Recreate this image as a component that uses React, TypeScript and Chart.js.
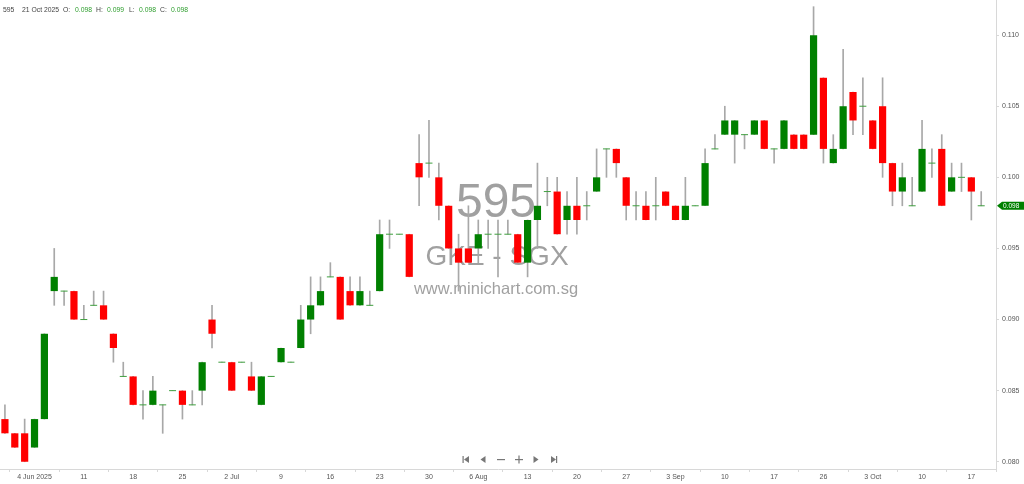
import React, { useEffect, useRef } from 'react';
import { Chart, registerables } from 'chart.js';

Chart.register(...registerables);

// daily OHLC, 595 GKE - SGX, from late May to 21 Oct 2025
const opens = [
  0.083, 0.082, 0.082, 0.081, 0.083, 0.092, 0.092, 0.092, 0.090, 0.091,
  0.091, 0.089, 0.086, 0.086, 0.084, 0.084, 0.084, 0.085, 0.085, 0.084,
  0.085, 0.090, 0.087, 0.087, 0.087, 0.086, 0.084, 0.086, 0.087, 0.087,
  0.088, 0.090, 0.091, 0.093, 0.093, 0.092, 0.091, 0.091, 0.092, 0.096,
  0.096, 0.096, 0.101, 0.101, 0.100, 0.098, 0.095, 0.095, 0.095, 0.096,
  0.096, 0.096, 0.096, 0.094, 0.097, 0.099, 0.099, 0.097, 0.098, 0.098,
  0.099, 0.102, 0.102, 0.100, 0.098, 0.098, 0.098, 0.099, 0.098, 0.097,
  0.098, 0.098, 0.102, 0.103, 0.103, 0.103, 0.103, 0.104, 0.102, 0.102,
  0.103, 0.103, 0.103, 0.107, 0.101, 0.102, 0.106, 0.105, 0.104, 0.105,
  0.101, 0.099, 0.098, 0.099, 0.101, 0.102, 0.099, 0.100, 0.100, 0.098,
];
const highs = [
  0.084, 0.082, 0.083, 0.083, 0.089, 0.095, 0.092, 0.092, 0.091, 0.092,
  0.092, 0.089, 0.087, 0.086, 0.085, 0.086, 0.084, 0.085, 0.085, 0.085,
  0.087, 0.091, 0.087, 0.087, 0.087, 0.087, 0.086, 0.086, 0.088, 0.087,
  0.091, 0.093, 0.093, 0.094, 0.093, 0.093, 0.093, 0.092, 0.097, 0.097,
  0.096, 0.096, 0.103, 0.104, 0.101, 0.098, 0.096, 0.098, 0.097, 0.097,
  0.097, 0.097, 0.096, 0.097, 0.101, 0.100, 0.100, 0.099, 0.100, 0.099,
  0.102, 0.102, 0.102, 0.100, 0.099, 0.099, 0.100, 0.099, 0.098, 0.100,
  0.098, 0.102, 0.103, 0.105, 0.104, 0.103, 0.104, 0.104, 0.102, 0.104,
  0.103, 0.103, 0.112, 0.107, 0.103, 0.109, 0.106, 0.107, 0.104, 0.107,
  0.101, 0.101, 0.100, 0.104, 0.102, 0.103, 0.101, 0.101, 0.100, 0.099,
];
const lows = [
  0.082, 0.081, 0.080, 0.081, 0.083, 0.091, 0.091, 0.090, 0.090, 0.091,
  0.090, 0.087, 0.086, 0.084, 0.083, 0.084, 0.082, 0.085, 0.083, 0.084,
  0.084, 0.088, 0.087, 0.085, 0.087, 0.085, 0.084, 0.086, 0.087, 0.087,
  0.088, 0.089, 0.091, 0.093, 0.090, 0.091, 0.091, 0.091, 0.092, 0.095,
  0.096, 0.093, 0.098, 0.100, 0.097, 0.095, 0.092, 0.094, 0.094, 0.095,
  0.093, 0.096, 0.094, 0.093, 0.095, 0.098, 0.096, 0.096, 0.096, 0.097,
  0.099, 0.100, 0.100, 0.097, 0.097, 0.097, 0.097, 0.098, 0.097, 0.097,
  0.098, 0.098, 0.102, 0.103, 0.101, 0.102, 0.103, 0.102, 0.101, 0.102,
  0.102, 0.102, 0.103, 0.101, 0.101, 0.102, 0.103, 0.103, 0.102, 0.100,
  0.098, 0.098, 0.098, 0.099, 0.100, 0.098, 0.099, 0.099, 0.097, 0.098,
];
const closes = [
  0.082, 0.081, 0.080, 0.083, 0.089, 0.093, 0.092, 0.090, 0.090, 0.091,
  0.090, 0.088, 0.086, 0.084, 0.084, 0.085, 0.084, 0.085, 0.084, 0.084,
  0.087, 0.089, 0.087, 0.085, 0.087, 0.085, 0.086, 0.086, 0.088, 0.087,
  0.090, 0.091, 0.092, 0.093, 0.090, 0.091, 0.092, 0.091, 0.096, 0.096,
  0.096, 0.093, 0.100, 0.101, 0.098, 0.095, 0.094, 0.094, 0.096, 0.096,
  0.096, 0.096, 0.094, 0.097, 0.098, 0.099, 0.096, 0.098, 0.097, 0.098,
  0.100, 0.102, 0.101, 0.098, 0.098, 0.097, 0.098, 0.098, 0.097, 0.098,
  0.098, 0.101, 0.102, 0.104, 0.104, 0.103, 0.104, 0.102, 0.102, 0.104,
  0.102, 0.102, 0.110, 0.102, 0.102, 0.105, 0.104, 0.105, 0.102, 0.101,
  0.099, 0.100, 0.098, 0.102, 0.101, 0.098, 0.100, 0.100, 0.099, 0.098,
];

// bar index -> date label on the time axis
const dateTickIndex = [3, 8, 13, 18, 23, 28, 33, 38, 43, 48, 53, 58, 63, 68, 73, 78, 83, 88, 93, 98];
const dateTickLabels = [
  '4 Jun 2025', '11', '18', '25', '2 Jul', '9', '16', '23', '30', '6 Aug',
  '13', '20', '27', '3 Sep', '10', '17', '26', '3 Oct', '10', '17',
];
const priceTicks = [0.08, 0.085, 0.09, 0.095, 0.1, 0.105, 0.11];

const UP = '#008000';
const DOWN = '#ff0000';
const FONT = '"Liberation Sans", Arial, sans-serif';

const watermark = {
  id: 'watermark',
  beforeDatasetsDraw(chart: any) {
    const ctx = chart.ctx;
    ctx.save();
    ctx.fillStyle = 'rgba(120,120,120,0.7)';
    ctx.textAlign = 'center';
    ctx.textBaseline = 'middle';
    ctx.font = `48px ${FONT}`;
    ctx.fillText('595', 496, 204);
    ctx.font = `28px ${FONT}`;
    ctx.fillText('GKE - SGX', 497, 257);
    ctx.font = `16.5px ${FONT}`;
    ctx.fillText('www.minichart.com.sg', 496, 289);
    ctx.restore();
  },
};

const overlay = {
  id: 'overlay',
  afterDraw(chart: any) {
    const ctx = chart.ctx;
    const n = closes.length - 1;
    ctx.save();

    // header line
    ctx.font = `6.8px ${FONT}`;
    ctx.textBaseline = 'middle';
    ctx.textAlign = 'left';
    const hdr: [string, number, string][] = [
      ['595', 3, '#444'],
      ['21 Oct 2025', 22, '#444'],
      ['O:', 63, '#444'],
      [opens[n].toFixed(3), 75, '#2e9e2e'],
      ['H:', 96, '#444'],
      [highs[n].toFixed(3), 107, '#2e9e2e'],
      ['L:', 129, '#444'],
      [lows[n].toFixed(3), 139, '#2e9e2e'],
      ['C:', 160, '#444'],
      [closes[n].toFixed(3), 171, '#2e9e2e'],
    ];
    hdr.forEach(([t, x, c]) => {
      ctx.fillStyle = c;
      ctx.fillText(t, x, 10.5);
    });

    // navigation buttons
    const cy = 459.5;
    ctx.fillStyle = '#777';
    ctx.fillRect(462.5, cy - 3.5, 1.2, 7);
    ctx.beginPath(); ctx.moveTo(464, cy); ctx.lineTo(469, cy - 3.5); ctx.lineTo(469, cy + 3.5); ctx.fill();
    ctx.beginPath(); ctx.moveTo(480.5, cy); ctx.lineTo(485.5, cy - 3.5); ctx.lineTo(485.5, cy + 3.5); ctx.fill();
    ctx.fillRect(497, cy - 0.5, 8, 1.2);
    ctx.fillRect(515, cy - 0.5, 8, 1.2);
    ctx.fillRect(518.4, cy - 4, 1.2, 8);
    ctx.beginPath(); ctx.moveTo(538.5, cy); ctx.lineTo(533.5, cy - 3.5); ctx.lineTo(533.5, cy + 3.5); ctx.fill();
    ctx.beginPath(); ctx.moveTo(556, cy); ctx.lineTo(551, cy - 3.5); ctx.lineTo(551, cy + 3.5); ctx.fill();
    ctx.fillRect(556, cy - 3.5, 1.2, 7);

    // last price tag on the price axis
    const yPx = chart.scales.y.getPixelForValue(closes[n]);
    const x0 = chart.chartArea.right + 1;
    ctx.fillStyle = UP;
    ctx.beginPath();
    ctx.moveTo(x0, yPx);
    ctx.lineTo(x0 + 5, yPx - 4);
    ctx.lineTo(1024, yPx - 4);
    ctx.lineTo(1024, yPx + 4);
    ctx.lineTo(x0 + 5, yPx + 4);
    ctx.closePath();
    ctx.fill();
    ctx.fillStyle = '#fff';
    ctx.font = `6.5px ${FONT}`;
    ctx.fillText(closes[n].toFixed(3), x0 + 6, yPx + 0.5);

    ctx.restore();
  },
};

const CandleChart = () => {
  const canvasRef = useRef<HTMLCanvasElement>(null);
  const chartRef = useRef<Chart | null>(null);

  useEffect(() => {
    const ctx = canvasRef.current?.getContext('2d');
    if (chartRef.current) chartRef.current.destroy();
    if (!ctx) return;

    const idx = closes.map((_, i) => i);
    const wicks = idx.map((i) => ({ x: i, y: [lows[i], highs[i]] }));
    const bodyIdx = idx.filter((i) => opens[i] !== closes[i]);
    const bodies = bodyIdx.map((i) => ({
      x: i,
      y: [Math.min(opens[i], closes[i]), Math.max(opens[i], closes[i])],
    }));
    const bodyColors = bodyIdx.map((i) => (closes[i] > opens[i] ? UP : DOWN));
    const dojis = idx.filter((i) => opens[i] === closes[i]).map((i) => ({ x: i, y: closes[i] }));

    chartRef.current = new Chart(ctx, {
      type: 'bar',
      data: {
        datasets: [
          {
            type: 'bar',
            data: wicks as any,
            backgroundColor: '#a8a8a8',
            barThickness: 1,
            grouped: false,
            order: 3,
          },
          {
            type: 'bar',
            data: bodies as any,
            backgroundColor: bodyColors,
            categoryPercentage: 1,
            barPercentage: 0.73,
            grouped: false,
            order: 2,
          },
          {
            type: 'line',
            data: dojis as any,
            showLine: false,
            pointStyle: 'line',
            pointRadius: 3.5,
            pointBorderWidth: 1,
            pointBorderColor: '#3f9f3f',
            order: 1,
          },
        ],
      },
      options: {
        responsive: true,
        maintainAspectRatio: false,
        animation: false,
        layout: { padding: 0, autoPadding: false },
        plugins: {
          legend: { display: false },
          tooltip: { enabled: false },
        },
        scales: {
          x: {
            type: 'linear',
            min: -0.5,
            max: 100.5,
            offset: false,
            afterBuildTicks: (scale: any) => {
              scale.ticks = dateTickIndex.map((v) => ({ value: v }));
            },
            afterFit: (scale: any) => {
              scale.height = 15;
              scale.paddingLeft = 0;
              scale.paddingRight = 0;
            },
            grid: { drawOnChartArea: false, drawTicks: true, tickLength: 3, color: '#d8d8d8' },
            border: { display: true, color: '#d8d8d8' },
            ticks: {
              autoSkip: false,
              maxRotation: 0,
              padding: 1,
              color: '#555',
              font: { family: FONT, size: 7 },
              callback: (v: any) => {
                const k = dateTickIndex.indexOf(Number(v));
                return k >= 0 ? dateTickLabels[k] : '';
              },
            },
          },
          y: {
            position: 'right',
            min: 0.07949,
            max: 0.11247,
            afterBuildTicks: (scale: any) => {
              scale.ticks = priceTicks.map((v) => ({ value: v }));
            },
            afterFit: (scale: any) => {
              scale.width = 28;
              scale.paddingTop = 0;
              scale.paddingBottom = 0;
            },
            grid: { drawOnChartArea: false, drawTicks: true, tickLength: 3, color: '#d8d8d8' },
            border: { display: true, color: '#d8d8d8' },
            ticks: {
              padding: 3,
              color: '#555',
              font: { family: FONT, size: 7 },
              callback: (v: any) => Number(v).toFixed(3),
            },
          },
        },
      },
      plugins: [watermark, overlay],
    });

    return () => {
      if (chartRef.current) {
        chartRef.current.destroy();
        chartRef.current = null;
      }
    };
  }, []);

  return (
    <div style={{ position: 'absolute', left: 0, top: 0, width: '1024px', height: '484px', background: '#fff' }}>
      <canvas ref={canvasRef} />
    </div>
  );
};

export default function App() {
  return <CandleChart />;
}
